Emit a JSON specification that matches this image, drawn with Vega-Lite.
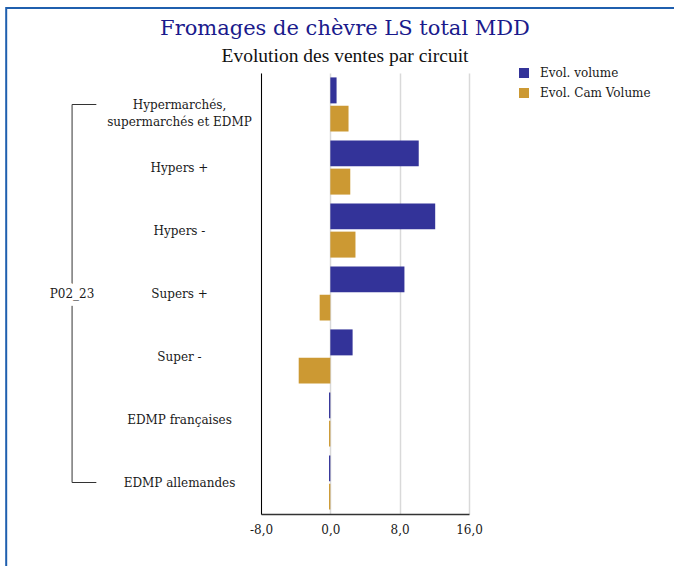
{
  "$schema": "https://vega.github.io/schema/vega-lite/v6.json",
  "autosize": {"type": "none"},
  "width": 208,
  "height": 441,
  "padding": {"left": 261, "top": 73, "right": 205, "bottom": 52},
  "background": "white",
  "title": {
    "text": "Fromages de chèvre LS total MDD",
    "subtitle": "Evolution des ventes par circuit",
    "font": "DejaVu Serif",
    "fontSize": 21,
    "fontWeight": "normal",
    "color": "#1a1a8c",
    "subtitleFont": "Liberation Serif",
    "subtitleFontSize": 19.5,
    "subtitleColor": "#111111",
    "subtitlePadding": 8,
    "anchor": "middle",
    "frame": "group",
    "dx": -20,
    "dy": 67,
    "offset": 8
  },
  "config": {
    "view": {"stroke": null},
    "font": "DejaVu Serif"
  },
  "datasets": {
    "sales": [
      {"circuit": "Hypermarchés, supermarchés et EDMP", "series": "Evol. volume", "value": 0.72},
      {"circuit": "Hypermarchés, supermarchés et EDMP", "series": "Evol. Cam Volume", "value": 2.1},
      {"circuit": "Hypers +", "series": "Evol. volume", "value": 10.2},
      {"circuit": "Hypers +", "series": "Evol. Cam Volume", "value": 2.3},
      {"circuit": "Hypers -", "series": "Evol. volume", "value": 12.1},
      {"circuit": "Hypers -", "series": "Evol. Cam Volume", "value": 2.9},
      {"circuit": "Supers +", "series": "Evol. volume", "value": 8.55},
      {"circuit": "Supers +", "series": "Evol. Cam Volume", "value": -1.23},
      {"circuit": "Super -", "series": "Evol. volume", "value": 2.57},
      {"circuit": "Super -", "series": "Evol. Cam Volume", "value": -3.65},
      {"circuit": "EDMP françaises", "series": "Evol. volume", "value": -0.15},
      {"circuit": "EDMP françaises", "series": "Evol. Cam Volume", "value": -0.15},
      {"circuit": "EDMP allemandes", "series": "Evol. volume", "value": -0.15},
      {"circuit": "EDMP allemandes", "series": "Evol. Cam Volume", "value": -0.15}
    ],
    "groups": [
      {"period": "P02_23", "first": "Hypermarchés, supermarchés et EDMP", "middle": "Supers +", "last": "EDMP allemandes"}
    ],
    "frame": [
      {"name": "frame"}
    ]
  },
  "layer": [
    {
      "layer": [
        {
          "data": {"name": "sales"},
          "mark": {"type": "bar"},
          "encoding": {
            "y": {
              "field": "circuit",
              "type": "nominal",
              "scale": {
                "domain": ["Hypermarchés, supermarchés et EDMP", "Hypers +", "Hypers -", "Supers +", "Super -", "EDMP françaises", "EDMP allemandes"],
                "paddingInner": 0.14,
                "paddingOuter": 0.07
              },
              "axis": {
                "title": null,
                "domain": true,
                "domainColor": "#000000",
                "domainWidth": 1,
                "ticks": false,
                "grid": false,
                "labelAlign": "center",
                "labelBaseline": "middle",
                "labelPadding": 82,
                "labelFont": "DejaVu Serif",
                "labelFontSize": 12,
                "labelColor": "#1a1a1a",
                "labelLineHeight": 17,
                "labelLimit": 0,
                "labelExpr": "datum.value == 'Hypermarchés, supermarchés et EDMP' ? ['Hypermarchés,', 'supermarchés et EDMP'] : datum.value"
              }
            },
            "yOffset": {
              "field": "series",
              "type": "nominal",
              "scale": {"domain": ["Evol. volume", "Evol. Cam Volume"], "paddingInner": 0.08, "paddingOuter": 0}
            },
            "x": {
              "field": "value",
              "type": "quantitative",
              "scale": {"domain": [-8, 16], "nice": false, "zero": false},
              "axis": {
                "title": null,
                "values": [-8, 0, 8, 16],
                "grid": true,
                "gridColor": "#d9d9d9",
                "gridWidth": 1.5,
                "domainColor": "#333333",
                "domainWidth": 1.5,
                "ticks": false,
                "labelFlush": false,
                "labelPadding": 10,
                "labelFont": "DejaVu Serif",
                "labelFontSize": 12,
                "labelColor": "#1a1a1a",
                "labelExpr": "replace(replace(format(datum.value, '.1f'), '.', ','), '−', '-')"
              }
            },
            "color": {
              "field": "series",
              "type": "nominal",
              "scale": {"domain": ["Evol. volume", "Evol. Cam Volume"], "range": ["#333399", "#cc9933"]},
              "legend": {
                "title": null,
                "orient": "none",
                "legendX": 257,
                "legendY": -6,
                "padding": 0,
                "symbolType": "square",
                "symbolSize": 100,
                "symbolStrokeWidth": 0,
                "symbolOpacity": 1,
                "labelFont": "DejaVu Serif",
                "labelFontSize": 12,
                "labelColor": "#1a1a1a",
                "labelOffset": 10,
                "rowPadding": 8
              }
            }
          }
        },
        {
          "data": {"name": "groups"},
          "mark": {"type": "rule", "color": "#333333", "strokeWidth": 1},
          "encoding": {
            "y": {"field": "first", "type": "nominal"},
            "y2": {"field": "last"},
            "x": {"datum": -29.8}
          }
        },
        {
          "data": {"name": "groups"},
          "mark": {"type": "rule", "color": "#333333", "strokeWidth": 1},
          "encoding": {
            "y": {"field": "first", "type": "nominal"},
            "x": {"datum": -29.8},
            "x2": {"datum": -27.0}
          }
        },
        {
          "data": {"name": "groups"},
          "mark": {"type": "rule", "color": "#333333", "strokeWidth": 1},
          "encoding": {
            "y": {"field": "last", "type": "nominal"},
            "x": {"datum": -29.8},
            "x2": {"datum": -27.0}
          }
        },
        {
          "data": {"name": "groups"},
          "mark": {"type": "text", "font": "DejaVu Serif", "fontSize": 12, "stroke": "white", "strokeWidth": 10, "fill": "white", "align": "center", "baseline": "middle"},
          "encoding": {
            "y": {"field": "middle", "type": "nominal"},
            "x": {"datum": -29.8},
            "text": {"field": "period"}
          }
        },
        {
          "data": {"name": "groups"},
          "mark": {"type": "text", "font": "DejaVu Serif", "fontSize": 12, "fill": "#1a1a1a", "align": "center", "baseline": "middle"},
          "encoding": {
            "y": {"field": "middle", "type": "nominal"},
            "x": {"datum": -29.8},
            "text": {"field": "period"}
          }
        }
      ]
    },
    {
      "data": {"name": "frame"},
      "mark": {"type": "rect", "fill": null, "stroke": "#1f5fae", "strokeWidth": 2},
      "encoding": {
        "x": {"datum": -37.4},
        "x2": {"datum": 60},
        "y": {"datum": 1.1474, "type": "quantitative", "scale": {"domain": [0, 1], "nice": false, "zero": false}, "axis": null},
        "y2": {"datum": -0.5}
      }
    }
  ],
  "resolve": {"scale": {"y": "independent"}}
}
